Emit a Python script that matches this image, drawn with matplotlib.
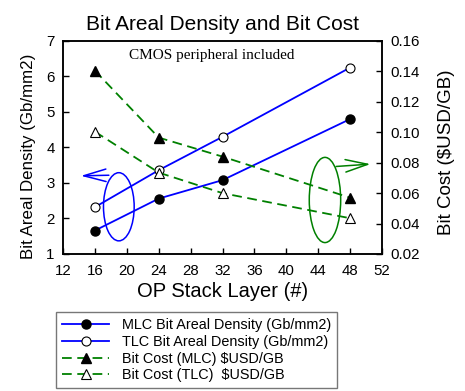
import numpy as np
import matplotlib
matplotlib.use("Agg")
import matplotlib.pyplot as plt
from matplotlib.patches import Ellipse

plt.rcParams["font.family"] = ["Liberation Sans", "DejaVu Sans"]
plt.rcParams["lines.scale_dashes"] = False

BLUE, GREEN = "#0000FF", "#008000"

layers = [16, 24, 32, 48]
mlc_density = [1.66, 2.56, 3.08, 4.80]
tlc_density = [2.32, 3.36, 4.30, 6.25]
mlc_cost = [0.1405, 0.0965, 0.084, 0.057]
tlc_cost = [0.1004, 0.0735, 0.060, 0.0435]

xticks = np.arange(12, 53, 4)
left_ticks = [1, 2, 3, 4, 5, 6, 7]
right_ticks = [0.02, 0.04, 0.06, 0.08, 0.10, 0.12, 0.14, 0.16]

fig = plt.figure(figsize=(4.65, 3.91), dpi=100)
ax = fig.add_axes([0.1355, 0.3504, 0.686, 0.5448])
ax2 = ax.twinx()

l1, = ax.plot(layers, mlc_density, "-", color=BLUE, lw=1.3, marker="o", ms=6.5,
              mfc="black", mec="black", label="MLC Bit Areal Density (Gb/mm2)")
l2, = ax.plot(layers, tlc_density, "-", color=BLUE, lw=1.3, marker="o", ms=6.5,
              mfc="white", mec="black", mew=0.8, label="TLC Bit Areal Density (Gb/mm2)")
l3, = ax2.plot(layers, mlc_cost, color=GREEN, lw=1.3, marker="^", ms=7,
               mfc="black", mec="black", dashes=(7, 4), label="Bit Cost (MLC) \\$USD/GB")
l4, = ax2.plot(layers, tlc_cost, color=GREEN, lw=1.3, marker="^", ms=7,
               mfc="white", mec="black", mew=0.8, dashes=(7, 4),
               label="Bit Cost (TLC)  \\$USD/GB")

ax.set_xlim(12, 52)
ax.set_ylim(1, 7)
ax2.set_ylim(0.02, 0.16)
ax.set_xticks(xticks)
ax.set_yticks(left_ticks)
ax2.set_yticks(right_ticks)
ax2.set_yticklabels([f"{v:.2f}" for v in right_ticks])

ax.tick_params(direction="in", length=4, width=1, labelsize=10.8)
ax.tick_params(axis="x", top=False, pad=7)
ax.tick_params(axis="y", pad=6)
ax2.tick_params(direction="in", length=4, width=1, labelsize=10.8, pad=6)
for a in (ax, ax2):
    for s in a.spines.values():
        s.set_linewidth(1.1)

ax.set_xlabel("OP Stack Layer (#)", fontsize=14.5, labelpad=3)
ax.set_ylabel("Bit Areal Density (Gb/mm2)", fontsize=12.2)
ax.yaxis.set_label_coords(-0.086, 0.46)
ax2.set_ylabel("Bit Cost (\\$USD/GB)", fontsize=13.5)
ax2.yaxis.set_label_coords(1.176, 0.477)
ax.set_title("Bit Areal Density and Bit Cost", fontsize=15, pad=8)

ax.text(30.6, 6.59, "CMOS peripheral included", family="Liberation Serif",
        fontsize=11, ha="center", va="center")

# group markers: density curves -> left axis, cost curves -> right axis
ax.add_patch(Ellipse((19.0, 2.33), 3.85, 1.92, fill=False, ec=BLUE, lw=1.1))
ax.annotate("", xy=(13.9, 3.20), xytext=(18.1, 3.22),
            arrowprops=dict(arrowstyle="->,head_length=1.6,head_width=0.45",
                            color=BLUE, lw=1.1))
ax2.add_patch(Ellipse((44.85, 0.0555), 3.94, 0.056, fill=False, ec=GREEN, lw=1.1))
ax2.annotate("", xy=(50.9, 0.0792), xytext=(45.9, 0.0774),
             arrowprops=dict(arrowstyle="->,head_length=1.6,head_width=0.45",
                             color=GREEN, lw=1.1), annotation_clip=False)

leg = fig.legend(handles=[l1, l2, l3, l4], loc="upper left",
                 bbox_to_anchor=(56 / 465, 1 - 312 / 391), fontsize=10.4,
                 frameon=True, fancybox=False, borderpad=0.4, labelspacing=0.2,
                 handlelength=3.3, handletextpad=0.9, borderaxespad=0)
leg.get_frame().set_edgecolor("#555555")
leg.get_frame().set_linewidth(1.0)

fig.savefig("out.png", dpi=100)
